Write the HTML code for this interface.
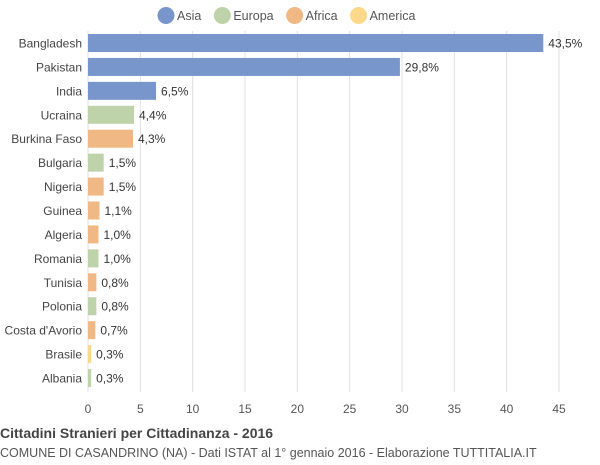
<!DOCTYPE html>
<html><head><meta charset="utf-8"><style>
body{margin:0;background:#fff;font-family:"Liberation Sans",sans-serif;}
</style></head><body>
<svg width="600" height="460" id="c" font-family="Liberation Sans, sans-serif">
<text x="0" y="438" font-size="14" font-weight="bold" fill="#444">Cittadini Stranieri per Cittadinanza - 2016</text>
<text x="0" y="457" font-size="12.5" fill="#555">COMUNE DI CASANDRINO (NA) - Dati ISTAT al 1° gennaio 2016 - Elaborazione TUTTITALIA.IT</text>
</svg>
<script>
const categories=["Bangladesh","Pakistan","India","Ucraina","Burkina Faso","Bulgaria","Nigeria","Guinea","Algeria","Romania","Tunisia","Polonia","Costa d'Avorio","Brasile","Albania"];
const values=[43.5,29.8,6.5,4.4,4.3,1.5,1.5,1.1,1.0,1.0,0.8,0.8,0.7,0.3,0.3];
const groups=["Asia","Asia","Asia","Europa","Africa","Europa","Africa","Africa","Africa","Europa","Africa","Europa","Africa","America","Europa"];
const legendNames=["Asia","Europa","Africa","America"];
const ticks=[0,5,10,15,20,25,30,35,40,45];
const colors={Asia:"#7996cc",Europa:"#bfd3aa",Africa:"#f0b885",America:"#fcd88b"};
const svg=document.getElementById('c');const NS="http://www.w3.org/2000/svg";
const x0=88,x1=559,y0=31,step=23.93,bh=18;
const xs=v=>x0+(v/45)*(x1-x0);
const yc=i=>y0+12+i*step;
function el(t,a,p){const e=document.createElementNS(NS,t);for(const k in a)e.setAttribute(k,a[k]);(p||svg).appendChild(e);return e;}
ticks.forEach(t=>{
 const g=el('line',{x1:xs(t),x2:xs(t),y1:31,y2:392,stroke:'#e0e0e0','stroke-width':1});
 
 
 const tx=el('text',{x:xs(t),y:413,'font-size':12,fill:'#555','text-anchor':'middle'});tx.textContent=t;
 
 
});
categories.forEach((c,i)=>{
 const r=el('rect',{x:x0,y:yc(i)-bh/2,width:xs(values[i])-x0,height:bh,fill:colors[groups[i]]});
 
 
 const l=el('text',{x:82,y:yc(i)+4.5,'font-size':12,fill:'#444','text-anchor':'end'});l.textContent=c;
 
 
 const v=el('text',{x:xs(values[i])+5,y:yc(i)+4.5,'font-size':12,fill:'#333'});v.textContent=values[i].toFixed(1).replace('.',',')+'%';
 
 
});
let lx=157;
legendNames.forEach(n=>{
 const g=el('g',{});
 
 
 el('circle',{cx:lx+9,cy:15.5,r:8.5,fill:colors[n]},g);
 const t=el('text',{x:lx+20,y:20,'font-size':12.5,fill:'#555'},g);t.textContent=n;
 lx+=20+t.getComputedTextLength()+12;
});
</script>
</body></html>
